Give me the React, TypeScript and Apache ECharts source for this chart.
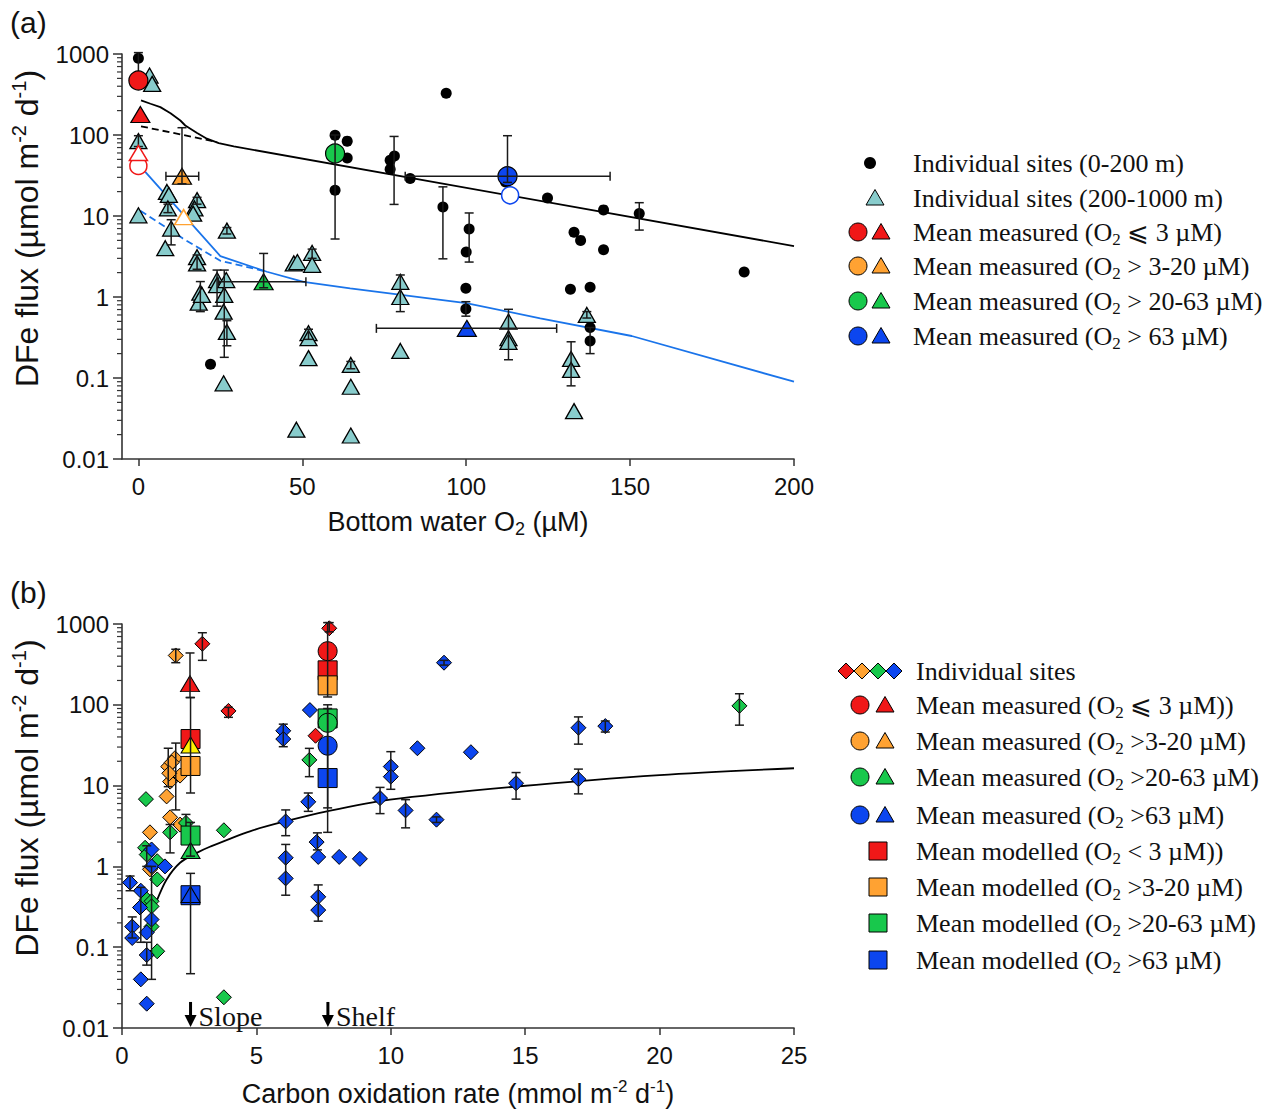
import React, { useEffect, useRef } from 'react';
import * as echarts from 'echarts';

// ---------------- shared axis data ----------------
const yTickLabels = ['0.01', '0.1', '1', '10', '100', '1000'];
const minorDecades = [0.01, 0.1, 1, 10, 100];
const minorMultipliers = [2, 3, 4, 5, 6, 7, 8, 9];
const aXTicks = [0, 50, 100, 150, 200];
const bXTicks = [0, 5, 10, 15, 20, 25];

// ---------------- panel (a) data: [O2 uM, DFe flux] ----------------
const aShelfSites: number[][] = [
  [0, 885], [22, 0.148], [60, 99], [60, 20.8], [63.7, 84], [63.7, 52], [76.8, 48.7], [78.1, 55],
  [76.8, 37.7], [82.9, 29], [93.9, 328], [92.9, 12.9], [100.9, 6.9], [100, 3.6], [99.9, 1.28],
  [99.9, 0.71], [112, 26.3], [124.8, 16.7], [141.9, 11.9], [152.8, 10.7], [132.9, 6.3], [134.9, 5.0],
  [141.9, 3.83], [184.8, 2.03], [131.8, 1.25], [137.8, 1.32], [137.8, 0.42], [137.8, 0.287],
];
// [x, y, low, high]
const aShelfErrors: number[][] = [
  [0, 885, 430, 1040], [78, 37.7, 13.9, 96], [92.9, 12.9, 2.96, 22.9], [100.9, 6.9, 2.7, 10.9],
  [99.9, 0.71, 0.58, 0.875], [137.8, 0.287, 0.2, 0.42], [152.8, 10.7, 6.7, 14.6],
];
const aSlopeSites: number[][] = [
  [3.4, 542], [4.2, 428], [0, 84], [0, 10.2], [8.7, 19.8], [9.3, 18.2], [9, 12.4], [10, 7.0], [8.2, 4.0],
  [17.9, 15.7], [17.1, 12.4], [16.7, 10.7], [27, 6.6], [17.9, 3.1], [17.9, 2.6], [18.9, 1.13], [18.4, 0.85],
  [19.4, 1.06], [24, 1.62], [24, 1.4], [26.8, 1.62], [26.2, 1.06], [26, 0.66], [27, 0.37], [26, 0.086],
  [47.4, 2.6], [48.5, 2.7], [53, 3.5], [53, 2.5], [51.9, 0.357], [51.9, 0.31], [51.9, 0.176], [48.2, 0.023],
  [64.8, 0.145], [64.8, 0.078], [64.8, 0.0195], [79.9, 1.54], [79.9, 1.0], [79.9, 0.216], [112.9, 0.497],
  [112.9, 0.31], [112.9, 0.28], [132, 0.172], [132, 0.126], [132.9, 0.039], [136.8, 0.6],
];
const aSlopeErrors: number[][] = [
  [0, 84, 72, 98], [10, 7.0, 4.4, 9], [18.9, 1.13, 0.66, 1.55], [24, 1.62, 0.77, 2.15], [26.2, 1.06, 0.18, 2.15],
  [27, 0.37, 0.25, 0.51], [79.9, 1.0, 0.66, 1.87], [112.9, 0.497, 0.168, 0.705], [132, 0.126, 0.08, 0.28],
  [64.8, 0.145, 0.13, 0.16], [53, 3.5, 3.0, 3.9], [136.8, 0.6, 0.55, 0.66], [51.9, 0.357, 0.3, 0.4],
  [27, 6.6, 6.0, 7.2], [17.9, 2.6, 2.2, 3.3], [9, 12.4, 11, 14], [17.9, 15.7, 14, 17],
];
const aMeanCircleRed = [[0, 470]];
const aMeanCircleGreen = [[60, 59]];
const aMeanCircleBlue = [[112.6, 31]];
const aMeanTriRed = [[0.6, 179]];
const aMeanTriOrange = [[13.3, 31]];
const aMeanTriGreen = [[38.2, 1.54]];
const aMeanTriBlue = [[100.2, 0.41]];
const aMeanVErrors: number[][] = [
  [60, 59, 5.2, 100], [112.6, 31, 26, 98], [13.3, 31, 25, 123], [38.2, 1.54, 1.3, 3.45],
];
const aMeanHErrors: number[][] = [
  [112.6, 31, 81.4, 143.9], [13.3, 31, 8.4, 18.4], [38.2, 1.54, 24.4, 51.1], [100.2, 0.41, 72.6, 127.6],
];
const aOpenCircleRed = [[0, 41.4]];
const aOpenTriRed = [[0, 60]];
const aOpenTriOrange = [[13.8, 9.7]];
const aOpenCircleBlue = [[113.4, 18]];
const aModelShelf = [
  [0.8, 267], [3.7, 243], [6.7, 221], [9.8, 186], [12.8, 151], [14.3, 131], [17.9, 106], [20.9, 90],
  [24.5, 79.4], [29.1, 72.3], [200, 4.25],
];
const aModelShelfDashed = [[0.8, 128], [24, 82]];
const aModelSlope = [
  [2.1, 35], [25, 3.2], [39.2, 2.05], [50.4, 1.54], [64.6, 1.28], [100, 0.84], [122.6, 0.546],
  [150.5, 0.33], [200, 0.09],
];
const aModelSlopeDashed = [[0.6, 11.6], [13.5, 5.3], [25, 2.8], [39.2, 2.05]];

// ---------------- panel (b) data: [C oxidation, DFe flux] ----------------
const bSitesRed = [[7.71, 885], [2.99, 569], [3.96, 84], [7.2, 41.4]];
const bSitesOrange = [
  [2.0, 408], [1.72, 17.2], [1.97, 21.8], [1.85, 19.3], [1.79, 11.2], [2.16, 13.3], [1.76, 14.2],
  [1.66, 7.35], [1.79, 4.05], [2.16, 3.29], [1.04, 2.64], [1.04, 0.92],
];
const bSitesGreen = [
  [6.97, 20.8], [0.89, 6.8], [2.38, 3.45], [3.79, 2.8], [3.79, 0.024], [0.86, 1.7], [0.92, 1.4],
  [1.31, 1.16], [1.31, 0.69], [0.92, 0.39], [1.1, 0.37], [1.1, 0.32], [1.1, 0.18], [1.31, 0.089],
  [1.79, 2.64], [22.97, 97],
];
const bSitesBlue = [
  [6.99, 86], [6.0, 47.7], [6.0, 37.7], [6.93, 6.3], [6.09, 3.6], [7.24, 2.0], [6.09, 1.28], [6.09, 0.71],
  [7.3, 1.31], [8.08, 1.31], [8.85, 1.24], [7.3, 0.42], [7.3, 0.288], [11.98, 332], [10.99, 29],
  [12.98, 25.9], [10.0, 17.2], [10.0, 12.9], [9.6, 7.0], [10.55, 4.93], [11.7, 3.79], [14.66, 10.7],
  [16.98, 52], [17.98, 54.5], [16.98, 12.0], [0.3, 0.63], [0.7, 0.5], [0.67, 0.31], [0.38, 0.18],
  [0.38, 0.13], [0.92, 0.152], [1.1, 0.22], [0.92, 0.08], [0.7, 0.04], [0.92, 0.02], [1.1, 1.62],
  [1.1, 1.0], [1.6, 1.0],
];
const bSiteErrors: number[][] = [
  [7.71, 885, 800, 1040], [2.99, 569, 355, 780], [2.0, 408, 332, 487], [3.96, 84, 70, 93],
  [6.0, 47.7, 30.3, 57.6], [6.97, 20.8, 12.9, 28.9], [6.93, 6.3, 4.8, 8.1], [6.09, 3.6, 2.4, 5.0],
  [6.09, 1.28, 0.44, 1.87], [7.27, 2.0, 1.6, 2.6], [7.3, 0.42, 0.21, 0.59], [11.98, 332, 310, 355],
  [10.0, 17.2, 9.0, 26.3], [9.6, 7.0, 4.5, 9.5], [10.55, 4.93, 3.0, 6.7], [11.7, 3.79, 3.5, 4.1],
  [14.66, 10.7, 6.8, 14.5], [16.98, 52, 32.6, 70.8], [17.98, 54.5, 46, 63], [16.98, 12.0, 7.9, 16],
  [22.97, 97, 56, 137], [0.3, 0.63, 0.5, 0.76], [0.38, 0.18, 0.13, 0.237], [0.7, 0.31, 0.115, 0.55],
  [0.92, 0.08, 0.06, 0.115], [1.1, 0.22, 0.04, 1.0], [1.79, 2.64, 1.47, 3.3], [0.92, 1.4, 1.0, 1.8],
  [1.72, 17.2, 9.7, 29], [2.0, 13.3, 5.0, 33.6], [2.38, 3.45, 3.0, 4.4],
];
const bMeasCircleRed = [[7.65, 461]];
const bMeasCircleGreen = [[7.65, 59.9]];
const bMeasCircleBlue = [[7.65, 31.2]];
const bMeasTriRed = [[2.53, 183]];
const bMeasTriOrange = [[2.55, 31.8]];
const bMeasTriGreen = [[2.55, 1.57]];
const bMeasTriBlue = [[2.55, 0.45]];
const bModSquareRed = [[2.55, 37.7], [7.65, 267]];
const bModSquareOrange = [[2.55, 17.5], [7.65, 174]];
const bModSquareGreen = [[2.55, 2.41], [7.65, 67.8]];
const bModSquareBlue = [[2.55, 0.44], [7.65, 12.4]];
const bMeanErrors: number[][] = [
  [2.53, 183, 123, 438], [2.55, 37.7, 8.1, 123], [2.55, 0.44, 0.047, 0.82], [2.55, 2.41, 1.34, 3.5],
  [7.65, 461, 125, 1040], [7.65, 59.9, 5.3, 100], [7.65, 12.4, 2.64, 90],
];
const bModelCurve = [
  [1.29, 0.374], [1.66, 0.69], [2.16, 1.11], [2.78, 1.47], [3.27, 1.75], [4.76, 2.72], [6.06, 3.6],
  [7.62, 4.8], [9.97, 6.7], [14.68, 9.75], [20, 13.5], [25, 16.4],
];
const bArrowX = [2.55, 7.66];
const bArrowLabels = ['Slope', 'Shelf'];

// ---------------- legends ----------------
const aLegendLabels = [
  'Individual sites (0-200 m)',
  'Individual sites (200-1000 m)',
  'Mean measured (O{s|2} ⩽ 3 µM)',
  'Mean measured (O{s|2} > 3-20 µM)',
  'Mean measured (O{s|2} > 20-63 µM)',
  'Mean measured (O{s|2} > 63 µM)',
];
const bLegendLabels = [
  'Individual sites',
  'Mean measured (O{s|2} ⩽ 3 µM))',
  'Mean measured (O{s|2} >3-20 µM)',
  'Mean measured (O{s|2} >20-63 µM)',
  'Mean measured (O{s|2} >63 µM)',
  'Mean modelled (O{s|2} < 3 µM))',
  'Mean modelled (O{s|2} >3-20 µM)',
  'Mean modelled (O{s|2} >20-63 µM)',
  'Mean modelled (O{s|2} >63 µM)',
];

const RED = '#f01818';
const ORANGE = '#ffa232';
const GREEN = '#18c84c';
const BLUE = '#0c46ef';
const YELLOW = '#fff000';
const CYAN = '#88cccc';
const LINEBLUE = '#1a74ea';
const INK = '#111111';
const SANS = 'Liberation Sans, Arial, sans-serif';
const SERIF = 'Liberation Serif, Times New Roman, serif';
const TICK_FS = 24;
const TITLE_FS = 27;
const YTITLE_FS = 32;
const LEG_FS = 26;

function scatter(data: number[][], g: number, symbol: string, size: any, fill: string, stroke: string, lw: number, z: number) {
  return {
    type: 'scatter', data, xAxisIndex: g, yAxisIndex: g, symbol, symbolSize: size, z, silent: true,
    itemStyle: { color: fill, borderColor: stroke, borderWidth: lw, opacity: 1 },
    emphasis: { disabled: true },
  };
}

function errBars(data: number[][], g: number, dir: 'v' | 'h', z: number) {
  return {
    type: 'custom', data, xAxisIndex: g, yAxisIndex: g, z, clip: false, silent: true,
    encode: { x: 0, y: 1 },
    renderItem: (_p: any, api: any) => {
      const x = api.value(0), y = api.value(1), lo = api.value(2), hi = api.value(3);
      const p1 = dir === 'v' ? api.coord([x, lo]) : api.coord([lo, y]);
      const p2 = dir === 'v' ? api.coord([x, hi]) : api.coord([hi, y]);
      const c = 4.5;
      const st = { stroke: '#1a1a1a', lineWidth: 1.5 };
      const caps = dir === 'v'
        ? [[p1[0] - c, p1[1], p1[0] + c, p1[1]], [p2[0] - c, p2[1], p2[0] + c, p2[1]]]
        : [[p1[0], p1[1] - c, p1[0], p1[1] + c], [p2[0], p2[1] - c, p2[0], p2[1] + c]];
      return {
        type: 'group',
        children: [
          { type: 'line', shape: { x1: p1[0], y1: p1[1], x2: p2[0], y2: p2[1] }, style: st },
          ...caps.map((k) => ({ type: 'line', shape: { x1: k[0], y1: k[1], x2: k[2], y2: k[3] }, style: st })),
        ],
      };
    },
  };
}

function minorTicks(g: number, xMin: number) {
  const vals: number[][] = [];
  minorDecades.forEach((d) => minorMultipliers.forEach((m) => vals.push([xMin, d * m])));
  return {
    type: 'custom', data: vals, xAxisIndex: g, yAxisIndex: g, z: 6, clip: false, silent: true,
    encode: { x: 0, y: 1 },
    renderItem: (_p: any, api: any) => {
      const p = api.coord([api.value(0), api.value(1)]);
      return { type: 'line', shape: { x1: p[0] - 5, y1: p[1], x2: p[0], y2: p[1] }, style: { stroke: '#333', lineWidth: 1.2 } };
    },
  };
}

function lineSeries(data: number[][], g: number, color: string, dashed: boolean, smooth: number | boolean, z: number) {
  return {
    type: 'line', data, xAxisIndex: g, yAxisIndex: g, symbol: 'none', smooth, z, silent: true,
    lineStyle: { color, width: 1.8, type: dashed ? [7, 4] : 'solid' },
  };
}

function yAxisCfg(g: number) {
  return {
    type: 'log', logBase: 10, min: 0.01, max: 1000, gridIndex: g,
    axisLine: { show: true, onZero: false, lineStyle: { color: '#333', width: 1.6 } },
    axisTick: { show: true, length: 9, lineStyle: { color: '#333', width: 1.5 } },
    minorTick: { show: false },
    splitLine: { show: false },
    axisLabel: {
      fontSize: TICK_FS, color: INK, fontFamily: SANS, margin: 13,
      formatter: (v: number) => yTickLabels[Math.round(Math.log10(v)) + 2],
    },
    name: 'DFe flux (µmol m{sup|-2} d{sup|-1})', nameLocation: 'middle', nameGap: 76, nameRotate: 90,
    nameTextStyle: {
      fontSize: YTITLE_FS, fontFamily: SANS, color: INK, lineHeight: 36, padding: [0, 0, 0, 56],
      rich: { sup: { fontSize: 20, fontFamily: SANS, color: INK, verticalAlign: 'top', lineHeight: 17 } },
    },
  };
}

function legendGraphics() {
  const els: any[] = [];
  const aRows = [163, 198, 232, 266, 301, 336];
  const bRows = [671, 705, 741, 777, 815, 851, 887, 923, 960];
  const cols = [RED, ORANGE, GREEN, BLUE];
  const tri = (cx: number, cy: number, fill: string) => ({
    type: 'polygon', shape: { points: [[cx, cy - 8.5], [cx + 9, cy + 7], [cx - 9, cy + 7]] },
    style: { fill, stroke: '#000', lineWidth: 1 },
  });
  const txt = (x: number, y: number, text: string) => ({
    type: 'text', x, y,
    style: {
      text, fontSize: LEG_FS, fontFamily: SERIF, fill: INK, verticalAlign: 'middle', lineHeight: 32,
      rich: { s: { fontSize: 17, fontFamily: SERIF, fill: INK, verticalAlign: 'bottom', lineHeight: 15 } },
    },
  });
  // panel (a)
  els.push({ type: 'circle', shape: { cx: 870, cy: aRows[0], r: 6 }, style: { fill: '#000' } });
  els.push(tri(875, aRows[1], CYAN));
  for (let i = 0; i < 4; i++) {
    els.push({ type: 'circle', shape: { cx: 858, cy: aRows[i + 2], r: 9 }, style: { fill: cols[i], stroke: '#000', lineWidth: 1 } });
    els.push(tri(881, aRows[i + 2], cols[i]));
  }
  aLegendLabels.forEach((t, i) => els.push(txt(913, aRows[i], t)));
  // panel (b)
  [846, 862, 878, 894].forEach((cx, i) => {
    const cy = bRows[0];
    els.push({ type: 'polygon', shape: { points: [[cx, cy - 8], [cx + 8, cy], [cx, cy + 8], [cx - 8, cy]] }, style: { fill: cols[i], stroke: '#000', lineWidth: 1 } });
  });
  for (let i = 0; i < 4; i++) {
    els.push({ type: 'circle', shape: { cx: 860, cy: bRows[i + 1], r: 9 }, style: { fill: cols[i], stroke: '#000', lineWidth: 1 } });
    els.push(tri(885, bRows[i + 1], cols[i]));
    els.push({ type: 'rect', shape: { x: 869, y: bRows[i + 5] - 9, width: 18, height: 18 }, style: { fill: cols[i], stroke: '#000', lineWidth: 1 } });
  }
  bLegendLabels.forEach((t, i) => els.push(txt(916, bRows[i], t)));
  // panel letters
  els.push({ type: 'text', x: 10, y: 7, style: { text: '(a)', fontSize: 30, fontFamily: SANS, fill: INK } });
  els.push({ type: 'text', x: 10, y: 577, style: { text: '(b)', fontSize: 30, fontFamily: SANS, fill: INK } });
  return els;
}

function arrowSeries() {
  return {
    type: 'custom', data: bArrowX.map((x) => [x, 0.021]), xAxisIndex: 1, yAxisIndex: 1, z: 7, clip: false, silent: true,
    encode: { x: 0, y: 1 },
    renderItem: (p: any, api: any) => {
      const top = api.coord([api.value(0), api.value(1)]);
      const bot = api.coord([api.value(0), 0.01]);
      const x = top[0];
      return {
        type: 'group',
        children: [
          { type: 'line', shape: { x1: x, y1: top[1], x2: x, y2: bot[1] - 10 }, style: { stroke: '#000', lineWidth: 3 } },
          { type: 'polygon', shape: { points: [[x - 6, bot[1] - 13], [x + 6, bot[1] - 13], [x, bot[1] - 1]] }, style: { fill: '#000' } },
          {
            type: 'text', x: x + 8, y: (top[1] + bot[1]) / 2 + 2,
            style: { text: bArrowLabels[p.dataIndex], fontSize: 28, fontFamily: SERIF, fill: INK, verticalAlign: 'middle' },
          },
        ],
      };
    },
  };
}

export default function App() {
  const ref = useRef<HTMLDivElement>(null);
  useEffect(() => {
    if (!ref.current) return;
    const chart = echarts.init(ref.current, undefined, { renderer: 'svg' });
    const option: any = {
      animation: false,
      backgroundColor: '#ffffff',
      grid: [
        { left: 122, top: 54, width: 672, height: 405 },
        { left: 122, top: 624, width: 672, height: 405 },
      ],
      xAxis: [
        {
          type: 'value', gridIndex: 0, min: -5, max: 200,
          axisLine: { show: true, onZero: false, lineStyle: { color: '#333', width: 1.6 } },
          axisTick: { show: true, length: 7, customValues: aXTicks, lineStyle: { color: '#333', width: 1.5 } },
          axisLabel: { customValues: aXTicks, fontSize: TICK_FS, color: INK, fontFamily: SANS, margin: 15 },
          splitLine: { show: false },
          name: 'Bottom water O{sub|2} (µM)', nameLocation: 'middle', nameGap: 47,
          nameTextStyle: {
            fontSize: TITLE_FS, fontFamily: SANS, color: INK, lineHeight: 32,
            rich: { sub: { fontSize: 18, fontFamily: SANS, color: INK, verticalAlign: 'bottom', lineHeight: 13 } },
          },
        },
        {
          type: 'value', gridIndex: 1, min: 0, max: 25, interval: 5,
          axisLine: { show: true, onZero: false, lineStyle: { color: '#333', width: 1.6 } },
          axisTick: { show: true, length: 7, lineStyle: { color: '#333', width: 1.5 } },
          axisLabel: { fontSize: TICK_FS, color: INK, fontFamily: SANS, margin: 15, formatter: (v: number) => String(bXTicks[Math.round(v / 5)]) },
          splitLine: { show: false },
          name: 'Carbon oxidation rate (mmol m{sup|-2} d{sup|-1})', nameLocation: 'middle', nameGap: 50,
          nameTextStyle: {
            fontSize: TITLE_FS, fontFamily: SANS, color: INK, lineHeight: 32,
            rich: { sup: { fontSize: 17, fontFamily: SANS, color: INK, verticalAlign: 'top', lineHeight: 15 } },
          },
        },
      ],
      yAxis: [yAxisCfg(0), yAxisCfg(1)],
      graphic: { elements: legendGraphics() },
      series: [
        // panel (a)
        lineSeries(aModelShelf, 0, '#000', false, false, 2),
        lineSeries(aModelShelfDashed, 0, '#000', true, false, 2),
        lineSeries(aModelSlope, 0, LINEBLUE, false, false, 2),
        lineSeries(aModelSlopeDashed, 0, LINEBLUE, true, false, 2),
        scatter(aShelfSites, 0, 'circle', 11, '#000', '#000', 0, 3),
        scatter(aSlopeSites, 0, 'triangle', [17, 15], CYAN, '#000', 1.3, 3),
        errBars(aShelfErrors, 0, 'v', 4),
        errBars(aSlopeErrors, 0, 'v', 4),
        scatter(aOpenCircleRed, 0, 'circle', 17, '#fff', RED, 1.5, 5),
        scatter(aOpenTriRed, 0, 'triangle', [18, 15], '#fff', RED, 1.5, 5),
        scatter(aOpenTriOrange, 0, 'triangle', [18, 15], '#fff', ORANGE, 1.5, 5),
        scatter(aOpenCircleBlue, 0, 'circle', 17, '#fff', BLUE, 1.5, 5),
        scatter(aMeanCircleRed, 0, 'circle', 19, RED, '#000', 1.2, 5),
        scatter(aMeanCircleGreen, 0, 'circle', 19, GREEN, '#000', 1.2, 5),
        scatter(aMeanCircleBlue, 0, 'circle', 19, BLUE, '#000', 1.2, 5),
        scatter(aMeanTriRed, 0, 'triangle', [19, 16], RED, '#000', 1.2, 5),
        scatter(aMeanTriOrange, 0, 'triangle', [19, 16], ORANGE, '#000', 1.2, 5),
        scatter(aMeanTriGreen, 0, 'triangle', [19, 16], GREEN, '#000', 1.2, 5),
        scatter(aMeanTriBlue, 0, 'triangle', [19, 16], BLUE, '#000', 1.2, 5),
        errBars(aMeanVErrors, 0, 'v', 6),
        errBars(aMeanHErrors, 0, 'h', 6),
        minorTicks(0, -5),
        // panel (b)
        lineSeries(bModelCurve, 1, '#000', false, 0.3, 2),
        scatter(bSitesRed, 1, 'diamond', 15, RED, '#000', 1, 3),
        scatter(bSitesOrange, 1, 'diamond', 15, ORANGE, '#000', 1, 3),
        scatter(bSitesGreen, 1, 'diamond', 15, GREEN, '#000', 1, 3),
        scatter(bSitesBlue, 1, 'diamond', 15, BLUE, '#000', 1, 3),
        errBars(bSiteErrors, 1, 'v', 4),
        scatter(bModSquareRed, 1, 'rect', 19, RED, '#000', 1, 5),
        scatter(bModSquareOrange, 1, 'rect', 19, ORANGE, '#000', 1, 5),
        scatter(bModSquareGreen, 1, 'rect', 19, GREEN, '#000', 1, 5),
        scatter(bModSquareBlue, 1, 'rect', 19, BLUE, '#000', 1, 5),
        scatter(bMeasCircleRed, 1, 'circle', 19, RED, '#000', 1, 5),
        scatter(bMeasCircleGreen, 1, 'circle', 19, GREEN, '#000', 1, 5),
        scatter(bMeasCircleBlue, 1, 'circle', 19, BLUE, '#000', 1, 5),
        scatter(bMeasTriRed, 1, 'triangle', [19, 16], RED, '#000', 1, 5),
        scatter(bMeasTriOrange, 1, 'triangle', [19, 16], YELLOW, '#000', 1, 5),
        scatter(bMeasTriGreen, 1, 'triangle', [19, 16], GREEN, '#000', 1, 5),
        scatter(bMeasTriBlue, 1, 'triangle', [19, 16], BLUE, '#000', 1, 5),
        errBars(bMeanErrors, 1, 'v', 6),
        minorTicks(1, 0),
        arrowSeries(),
      ],
    };
    chart.setOption(option);
    return () => chart.dispose();
  }, []);
  return (
    <div
      ref={ref}
      style={{ position: 'fixed', left: 0, top: 0, width: 1270, height: 1111, background: '#fff' }}
    />
  );
}
